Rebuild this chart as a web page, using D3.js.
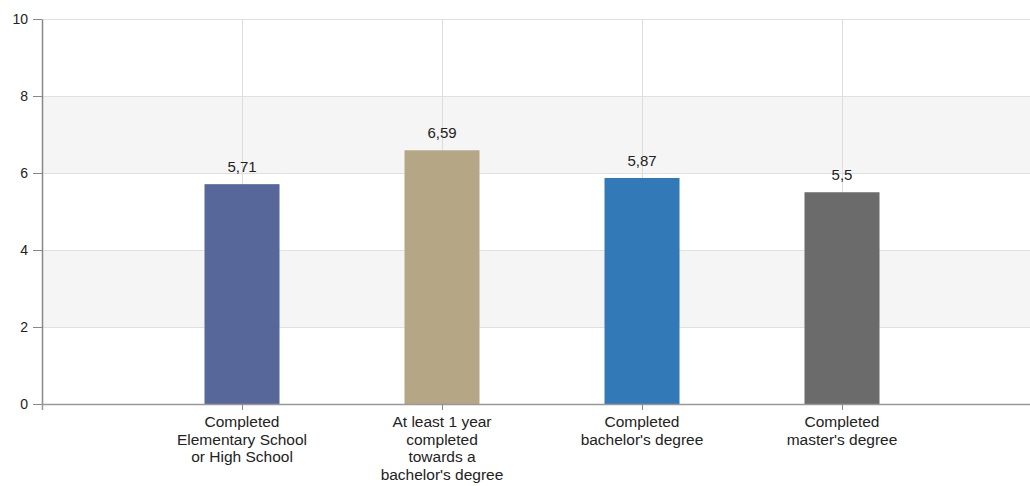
<!DOCTYPE html>
<html lang="en">
<head>
  <meta charset="UTF-8">
  <title>Education bars</title>
  <script src="https://d3js.org/d3.v7.min.js"></script>
  <style>
    body {
      margin: 0;
      padding: 0;
      background: #fff;
      font-family: "Liberation Sans", Arial, sans-serif;
    }
    .tick text { fill: #222; }
  </style>
</head>
<body>
  <svg id="chart" width="1030" height="486"></svg>

  <script>
    const categories = [
      ["Completed", "Elementary School", "or High School"],
      ["At least 1 year", "completed", "towards a", "bachelor's degree"],
      ["Completed", "bachelor's degree"],
      ["Completed", "master's degree"]
    ];
    const values = [5.71, 6.59, 5.87, 5.5];
    const valueLabels = ["5,71", "6,59", "5,87", "5,5"];
    const barColors = ["#58679a", "#b5a785", "#3279b8", "#6b6b6b"];
    const yTicks = [0, 2, 4, 6, 8, 10];

    const svg = d3.select("#chart");
    const plotLeft = 42, plotRight = 1042, plotTop = 19, plotBottom = 404;
    const keys = categories.map(c => c.join(" "));

    const x = d3.scalePoint().domain(keys).range([plotLeft, plotRight]).padding(1);
    const y = d3.scaleLinear().domain([0, 10]).range([plotBottom, plotTop]);
    const barW = 75;

    // alternating bands
    const bands = d3.pairs(yTicks).filter((d, i) => i % 2 === 1);
    svg.append("g")
      .selectAll("rect")
      .data(bands)
      .join("rect")
      .attr("x", plotLeft)
      .attr("y", d => y(d[1]))
      .attr("width", plotRight - plotLeft)
      .attr("height", d => y(d[0]) - y(d[1]))
      .attr("fill", "#f5f5f5");

    // horizontal grid
    svg.append("g")
      .selectAll("line")
      .data(yTicks.slice(1))
      .join("line")
      .attr("x1", plotLeft).attr("x2", plotRight)
      .attr("y1", d => y(d) + 0.5).attr("y2", d => y(d) + 0.5)
      .attr("stroke", "#e0e0e0");

    // vertical grid
    svg.append("g")
      .selectAll("line")
      .data(keys)
      .join("line")
      .attr("x1", d => Math.round(x(d)) + 0.5).attr("x2", d => Math.round(x(d)) + 0.5)
      .attr("y1", plotTop).attr("y2", plotBottom)
      .attr("stroke", "#dddddd");

    // bars
    svg.append("g")
      .selectAll("rect")
      .data(values)
      .join("rect")
      .attr("x", (d, i) => x(keys[i]) - barW / 2)
      .attr("y", d => y(d))
      .attr("width", barW)
      .attr("height", d => y(0) - y(d))
      .attr("fill", (d, i) => barColors[i]);

    // value labels
    svg.append("g")
      .selectAll("text")
      .data(values)
      .join("text")
      .attr("x", (d, i) => x(keys[i]))
      .attr("y", d => y(d) - 12)
      .attr("text-anchor", "middle")
      .attr("font-size", 15)
      .attr("fill", "#222")
      .text((d, i) => valueLabels[i]);

    // y axis
    const yAxis = svg.append("g")
      .attr("transform", `translate(${plotLeft},0)`)
      .call(d3.axisLeft(y).tickValues(yTicks).tickSize(9).tickSizeOuter(0).tickPadding(5));
    yAxis.select(".domain").attr("stroke", "#888").attr("stroke-width", 1.5);
    yAxis.selectAll(".tick line").attr("stroke", "#888");
    yAxis.selectAll(".tick text")
      .attr("font-size", 14)
      .attr("font-family", "Liberation Sans, Arial, sans-serif");

    // x axis
    const xAxis = svg.append("g")
      .attr("transform", `translate(0,${plotBottom})`)
      .call(d3.axisBottom(x).tickSize(6).tickSizeOuter(6).tickFormat(""));
    xAxis.select(".domain").attr("stroke", "#999").attr("stroke-width", 1.5);
    xAxis.selectAll(".tick line").attr("stroke", "#888");

    svg.append("g")
      .selectAll("text")
      .data(categories)
      .join("text")
      .attr("x", (d, i) => x(keys[i]))
      .attr("y", plotBottom + 23)
      .attr("text-anchor", "middle")
      .attr("font-size", 15.5)
      .attr("fill", "#222")
      .each(function(d) {
        d3.select(this).selectAll("tspan")
          .data(d)
          .join("tspan")
          .attr("x", d3.select(this).attr("x"))
          .attr("dy", (t, j) => j === 0 ? 0 : 17.6)
          .text(t => t);
      });
  </script>
</body>
</html>
